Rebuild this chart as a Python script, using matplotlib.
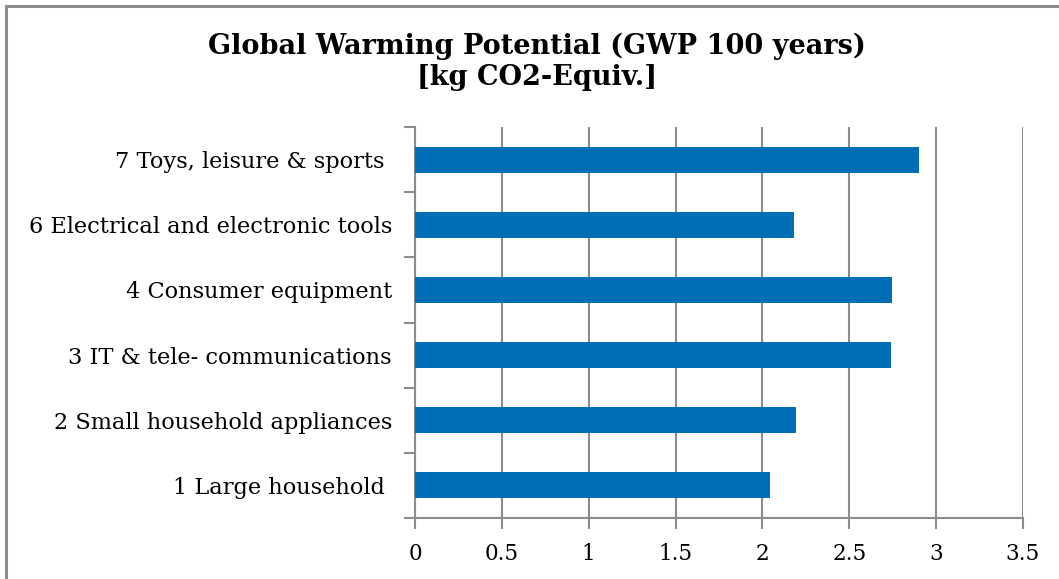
import matplotlib
matplotlib.use("Agg")
import matplotlib.pyplot as plt
from matplotlib.patches import Rectangle

categories = ["1 Large household ", "2 Small household appliances", "3 IT & tele- communications",
              "4 Consumer equipment", "6 Electrical and electronic tools", "7 Toys, leisure & sports "]
values = [2.045, 2.195, 2.740, 2.745, 2.183, 2.902]
xticks = [0, 0.5, 1, 1.5, 2, 2.5, 3, 3.5]
xticklabels = ["0", "0.5", "1", "1.5", "2", "2.5", "3", "3.5"]
title = "Global Warming Potential (GWP 100 years)\n[kg CO2-Equiv.]"

W, H = 1059, 579
fig = plt.figure(figsize=(W / 100, H / 100), dpi=100)
fig.patch.set_facecolor("white")

# chart-area border (extends past right/bottom edges)
fig.add_artist(Rectangle((5.5 / W, -0.1), 1.2, 1 - 6.5 / H + 0.1, transform=fig.transFigure,
                         fill=False, edgecolor="#8c8c8c", linewidth=2.2))

ax = fig.add_axes([415 / W, 1 - 518 / H, (1023 - 415) / W, (518 - 127) / H])
grid_c = "#8c8c8c"
ypos = list(range(len(categories)))
ax.barh(ypos, values, height=0.4, color="#006EB4", zorder=3)
ax.set_xlim(0, 3.5)
ax.set_ylim(-0.5, len(categories) - 0.5)

ax.set_xticks(xticks)
ax.set_xticklabels(xticklabels, fontfamily="DejaVu Serif", fontsize=15.5)
ax.set_yticks(ypos)
ax.set_yticklabels(categories, fontfamily="DejaVu Serif", fontsize=16.2)
ax.set_yticks([i - 0.5 for i in range(len(categories) + 1)], minor=True)

ax.tick_params(axis="y", which="major", length=0, pad=16.5)
ax.tick_params(axis="y", which="minor", length=8, width=1.5, color=grid_c)
ax.tick_params(axis="x", which="major", length=8, width=1.5, color=grid_c, pad=10)

ax.grid(axis="x", color=grid_c, linewidth=1.5, zorder=0)
for s in ["top", "right"]:
    ax.spines[s].set_visible(False)
for s in ["left", "bottom"]:
    ax.spines[s].set_color(grid_c)
    ax.spines[s].set_linewidth(1.5)

fig.text(0.507, 1 - 61.5 / H, title, ha="center", va="center", fontfamily="DejaVu Serif",
         fontweight="bold", fontsize=19.5, linespacing=1.2)

fig.savefig("out.png", dpi=100)
